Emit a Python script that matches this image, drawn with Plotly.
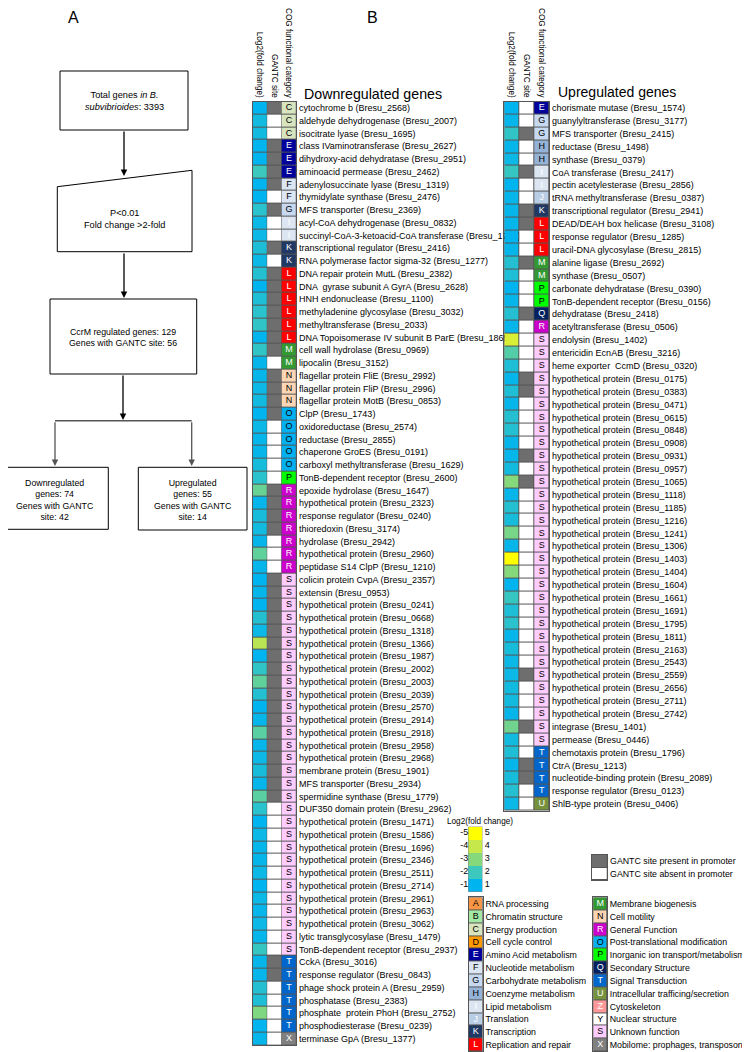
import plotly.graph_objects as go

W, H = 750, 1052
FONT = "Liberation Sans"
OFF = 8  # the page body adds an 8px margin around the figure


def px(x):
    return (x - OFF) / W


def py(y):
    return 1 - (y - OFF) / H


# ---- panel B data: downregulated genes ----
down_genes = [
    "cytochrome b (Bresu_2568)", "aldehyde dehydrogenase (Bresu_2007)", "isocitrate lyase (Bresu_1695)",
    "class IVaminotransferase (Bresu_2627)", "dihydroxy-acid dehydratase (Bresu_2951)",
    "aminoacid permease (Bresu_2462)", "adenylosuccinate lyase (Bresu_1319)",
    "thymidylate synthase (Bresu_2476)", "MFS transporter (Bresu_2369)",
    "acyl-CoA dehydrogenase (Bresu_0832)", "succinyl-CoA-3-ketoacid-CoA transferase (Bresu_1719)",
    "transcriptional regulator (Bresu_2416)", "RNA polymerase factor sigma-32 (Bresu_1277)",
    "DNA repair protein MutL (Bresu_2382)", "DNA  gyrase subunit A GyrA (Bresu_2628)",
    "HNH endonuclease (Bresu_1100)", "methyladenine glycosylase (Bresu_3032)",
    "methyltransferase (Bresu_2033)", "DNA Topoisomerase IV subunit B ParE (Bresu_1865)",
    "cell wall hydrolase (Bresu_0969)", "lipocalin (Bresu_3152)", "flagellar protein FliE (Bresu_2992)",
    "flagellar protein FliP (Bresu_2996)", "flagellar protein MotB (Bresu_0853)", "ClpP (Bresu_1743)",
    "oxidoreductase (Bresu_2574)", "reductase (Bresu_2855)", "chaperone GroES (Bresu_0191)",
    "carboxyl methyltransferase (Bresu_1629)", "TonB-dependent receptor (Bresu_2600)",
    "epoxide hydrolase (Bresu_1647)", "hypothetical protein (Bresu_2323)",
    "response regulator (Bresu_0240)", "thioredoxin (Bresu_3174)", "hydrolase (Bresu_2942)",
    "hypothetical protein (Bresu_2960)", "peptidase S14 ClpP (Bresu_1210)",
    "colicin protein CvpA (Bresu_2357)", "extensin (Bresu_0953)",
    "hypothetical protein (Bresu_0241)", "hypothetical protein (Bresu_0668)",
    "hypothetical protein (Bresu_1318)", "hypothetical protein (Bresu_1366)",
    "hypothetical protein (Bresu_1987)", "hypothetical protein (Bresu_2002)",
    "hypothetical protein (Bresu_2003)", "hypothetical protein (Bresu_2039)",
    "hypothetical protein (Bresu_2570)", "hypothetical protein (Bresu_2914)",
    "hypothetical protein (Bresu_2918)", "hypothetical protein (Bresu_2958)",
    "hypothetical protein (Bresu_2968)", "membrane protein (Bresu_1901)",
    "MFS transporter (Bresu_2934)", "spermidine synthase (Bresu_1779)",
    "DUF350 domain protein (Bresu_2962)", "hypothetical protein (Bresu_1471)",
    "hypothetical protein (Bresu_1586)", "hypothetical protein (Bresu_1696)",
    "hypothetical protein (Bresu_2346)", "hypothetical protein (Bresu_2511)",
    "hypothetical protein (Bresu_2714)", "hypothetical protein (Bresu_2961)",
    "hypothetical protein (Bresu_2963)", "hypothetical protein (Bresu_3062)",
    "lytic transglycosylase (Bresu_1479)", "TonB-dependent receptor (Bresu_2937)",
    "CckA (Bresu_3016)", "response regulator (Bresu_0843)", "phage shock protein A (Bresu_2959)",
    "phosphatase (Bresu_2383)", "phosphate  protein PhoH (Bresu_2752)",
    "phosphodiesterase (Bresu_0239)", "terminase GpA (Bresu_1377)",
]
down_log2 = [
    -1.0, -1.3, -1.3, -1.0, -1.0, -2.0, -1.0, -1.0, -1.7, -1.2, -1.2, -1.5, -1.2,
    -1.6, -1.0, -1.5, -1.7, -1.8, -1.0, -1.8, -1.1, -1.1, -1.2, -1.3, -1.0, -1.2,
    -1.1, -1.1, -1.4, -1.7, -2.6, -1.1, -1.4, -1.3, -1.1, -2.5, -1.1, -1.0, -1.1,
    -1.0, -1.6, -1.2, -3.8, -1.0, -1.8, -2.5, -1.6, -1.0, -1.1, -2.4, -1.1, -1.2,
    -1.4, -1.1, -2.4, -1.7, -1.0, -1.2, -1.1, -1.1, -1.2, -1.0, -1.2, -1.1, -1.2,
    -1.1, -1.9, -1.1, -1.1, -1.6, -1.5, -2.9, -1.0, -1.1,
]
down_gantc = [
    1, 0, 0, 1, 1, 1, 1, 0, 1, 0, 0, 1, 0, 1, 1, 1, 1, 1, 1, 1, 0, 1, 1, 1, 1, 0,
    0, 0, 0, 0, 1, 1, 1, 1, 0, 0, 0, 1, 1, 1, 1, 1, 1, 1, 1, 1, 1, 1, 1, 1, 1, 1,
    1, 1, 1, 0, 0, 0, 0, 0, 0, 0, 0, 0, 0, 0, 0, 1, 1, 0, 0, 0, 0, 0,
]
down_cog = list("CCCEEEFFGIIKKLLLLLLMMNNNOOOOOPRRRRRRRSSSSSSSSSSSSSSSSSSSSSSSSSSSSSSTTTTTTX")

# ---- panel B data: upregulated genes ----
up_genes = [
    "chorismate mutase (Bresu_1574)", "guanylyltransferase (Bresu_3177)",
    "MFS transporter (Bresu_2415)", "reductase (Bresu_1498)", "synthase (Bresu_0379)",
    "CoA transferase (Bresu_2417)", "pectin acetylesterase (Bresu_2856)",
    "tRNA methyltransferase (Bresu_0387)", "transcriptional regulator (Bresu_2941)",
    "DEAD/DEAH box helicase (Bresu_3108)", "response regulator (Bresu_1285)",
    "uracil-DNA glycosylase (Bresu_2815)", "alanine ligase (Bresu_2692)", "synthase (Bresu_0507)",
    "carbonate dehydratase (Bresu_0390)", "TonB-dependent receptor (Bresu_0156)",
    "dehydratase (Bresu_2418)", "acetyltransferase (Bresu_0506)", "endolysin (Bresu_1402)",
    "entericidin EcnAB (Bresu_3216)", "heme exporter  CcmD (Bresu_0320)",
    "hypothetical protein (Bresu_0175)", "hypothetical protein (Bresu_0383)",
    "hypothetical protein (Bresu_0471)", "hypothetical protein (Bresu_0615)",
    "hypothetical protein (Bresu_0848)", "hypothetical protein (Bresu_0908)",
    "hypothetical protein (Bresu_0931)", "hypothetical protein (Bresu_0957)",
    "hypothetical protein (Bresu_1065)", "hypothetical protein (Bresu_1118)",
    "hypothetical protein (Bresu_1185)", "hypothetical protein (Bresu_1216)",
    "hypothetical protein (Bresu_1241)", "hypothetical protein (Bresu_1306)",
    "hypothetical protein (Bresu_1403)", "hypothetical protein (Bresu_1404)",
    "hypothetical protein (Bresu_1604)", "hypothetical protein (Bresu_1661)",
    "hypothetical protein (Bresu_1691)", "hypothetical protein (Bresu_1795)",
    "hypothetical protein (Bresu_1811)", "hypothetical protein (Bresu_2163)",
    "hypothetical protein (Bresu_2543)", "hypothetical protein (Bresu_2559)",
    "hypothetical protein (Bresu_2656)", "hypothetical protein (Bresu_2711)",
    "hypothetical protein (Bresu_2742)", "integrase (Bresu_1401)", "permease (Bresu_0446)",
    "chemotaxis protein (Bresu_1796)", "CtrA (Bresu_1213)",
    "nucleotide-binding protein (Bresu_2089)", "response regulator (Bresu_0123)",
    "ShlB-type protein (Bresu_0406)",
]
up_log2 = [
    1.0, 1.1, 1.8, 1.1, 1.2, 1.9, 1.0, 1.1, 1.1, 1.1, 1.0, 1.1, 1.6, 1.5, 1.0, 1.1,
    1.6, 1.1, 4.3, 2.3, 1.5, 1.1, 1.5, 1.1, 1.6, 1.6, 1.1, 1.1, 1.3, 3.0, 1.1, 1.6,
    1.4, 2.8, 1.1, 5.0, 3.0, 1.0, 1.9, 1.5, 1.7, 1.1, 1.4, 1.2, 1.2, 1.3, 1.3, 1.1,
    2.7, 1.3, 1.5, 1.1, 1.4, 1.6, 1.2,
]
up_gantc = [
    0, 0, 1, 0, 0, 1, 0, 0, 1, 1, 0, 0, 1, 0, 0, 0, 1, 0, 0, 0, 0, 1, 1, 0, 0, 0,
    0, 1, 0, 1, 0, 0, 0, 0, 0, 0, 0, 0, 0, 0, 0, 0, 0, 0, 1, 0, 0, 0, 1, 0, 0, 1,
    1, 0, 0,
]
up_cog = list("EGGHHIIJKLLLMMPPQRSSSSSSSSSSSSSSSSSSSSSSSSSSSSSSSSTTTTU")

# ---- COG legend ----
cog_left = ["A", "B", "C", "D", "E", "F", "G", "H", "I", "J", "K", "L"]
cog_left_names = ["RNA processing", "Chromatin structure", "Energy production", "Cell cycle control",
                  "Amino Acid metabolism", "Nucleotide metabolism", "Carbohydrate metabolism",
                  "Coenzyme metabolism", "Lipid metabolism", "Translation", "Transcription",
                  "Replication and repair"]
cog_right = ["M", "N", "R", "O", "P", "Q", "T", "U", "Z", "Y", "S", "X"]
cog_right_names = ["Membrane biogenesis", "Cell motility", "General Function",
                   "Post-translational modification", "Inorganic ion transport/metabolism",
                   "Secondary Structure", "Signal Transduction", "Intracellular trafficing/secretion",
                   "Cytoskeleton", "Nuclear structure", "Unknown function",
                   "Mobilome: prophages, transposons"]
cog_colors = {
    "A": "#F79646", "B": "#A3E8A3", "C": "#D7E4BD", "D": "#FF9900", "E": "#00009C",
    "F": "#DCE6F2", "G": "#C6D9F1", "H": "#95B3D7", "I": "#DCE6F2", "J": "#B9CDE5",
    "K": "#1F3864", "L": "#FF0000", "M": "#339933", "N": "#FCD5B5", "R": "#CC00CC",
    "O": "#00B0F0", "P": "#00FF00", "Q": "#002060", "T": "#0066CC", "U": "#76923C",
    "Z": "#FF9999", "Y": "#FFFFFF", "S": "#FFCCFF", "X": "#808080",
}
white_text = set("EKLMRQTUZXIJ")

fold_levels = [5, 4, 3, 2, 1]
fold_scale = [[0, "#00B4F0"], [0.25, "#3CC8BC"], [0.5, "#86D97A"], [0.75, "#C6E84A"], [1, "#FFFF00"]]
gantc_scale = [[0, "#FFFFFF"], [1, "#6E6E6E"]]
gantc_legend = ["GANTC site present in promoter", "GANTC site absent in promoter"]

cog_order = list(cog_colors.keys())
cog_scale = []
for i, k in enumerate(cog_order):
    cog_scale.append([i / len(cog_order), cog_colors[k]])
    cog_scale.append([(i + 1) / len(cog_order), cog_colors[k]])

COLS = ["Log2(fold change)", "GANTC site", "COG functional category"]

fig = go.Figure()


def letter_colors(letters):
    return ["white" if c in white_text else "black" for c in letters]


def gene_table(n, log2, gantc, cog, xa, ya):
    ys = list(range(n))
    common = dict(showscale=False, xgap=1, ygap=1, hoverinfo="skip", xaxis=xa, yaxis=ya, dx=1)
    fig.add_trace(go.Heatmap(x0=0, y=ys, z=[[abs(v)] for v in log2], zmin=1, zmax=5,
                             colorscale=fold_scale, **common))
    fig.add_trace(go.Heatmap(x0=1, y=ys, z=[[g] for g in gantc], zmin=0, zmax=1,
                             colorscale=gantc_scale, **common))
    fig.add_trace(go.Heatmap(x0=2, y=ys, z=[[cog_order.index(c)] for c in cog],
                             zmin=-0.5, zmax=len(cog_order) - 0.5, colorscale=cog_scale, **common))
    fig.add_trace(go.Scatter(x=[2] * n, y=ys, mode="text", text=cog, hoverinfo="skip",
                             textfont=dict(family=FONT, size=9, color=letter_colors(cog)),
                             xaxis=xa, yaxis=ya, showlegend=False))


def cog_legend(letters, xa, ya):
    ys = list(range(len(letters)))
    fig.add_trace(go.Heatmap(x0=0, dx=1, y=ys, z=[[cog_order.index(c)] for c in letters],
                             zmin=-0.5, zmax=len(cog_order) - 0.5, colorscale=cog_scale,
                             showscale=False, xgap=1, ygap=1, hoverinfo="skip", xaxis=xa, yaxis=ya))
    fig.add_trace(go.Scatter(x=[0] * len(letters), y=ys, mode="text", text=letters, hoverinfo="skip",
                             textfont=dict(family=FONT, size=9, color=letter_colors(letters)),
                             xaxis=xa, yaxis=ya, showlegend=False))


gene_table(len(down_genes), down_log2, down_gantc, down_cog, "x", "y")
gene_table(len(up_genes), up_log2, up_gantc, up_cog, "x2", "y2")

# fold-change colour key
fig.add_trace(go.Heatmap(x0=0, dx=1, y=list(range(5)), z=[[v] for v in fold_levels], zmin=1, zmax=5,
                         colorscale=fold_scale, showscale=False, hoverinfo="skip", xaxis="x3", yaxis="y3"))
fig.add_trace(go.Scatter(x=[-0.5] * 5, y=list(range(5)), mode="text", text=["-%d" % v for v in fold_levels],
                         textposition="middle left", cliponaxis=False, hoverinfo="skip",
                         textfont=dict(family=FONT, size=9, color="black"),
                         xaxis="x3", yaxis="y3", showlegend=False))
fig.add_trace(go.Scatter(x=[0.5] * 5, y=list(range(5)), mode="text", text=[" " + str(v) for v in fold_levels],
                         textposition="middle right", cliponaxis=False, hoverinfo="skip",
                         textfont=dict(family=FONT, size=9, color="black"),
                         xaxis="x3", yaxis="y3", showlegend=False))

# GANTC key
fig.add_trace(go.Heatmap(x0=0, dx=1, y=[0, 1], z=[[1], [0]], zmin=0, zmax=1, colorscale=gantc_scale,
                         showscale=False, xgap=1, ygap=1, hoverinfo="skip", xaxis="x4", yaxis="y4"))

cog_legend(cog_left, "x5", "y5")
cog_legend(cog_right, "x6", "y6")


def xax(x0, x1, anchor, labels=False):
    d = dict(domain=[px(x0), px(x1)], anchor=anchor, showgrid=False, zeroline=False, ticks="", ticklen=0,
             showline=True, mirror=True, linecolor="#555555", linewidth=1, fixedrange=True)
    if labels:
        d.update(range=[-0.5, 2.5], side="top", tickmode="array", tickvals=[0, 1, 2], ticktext=COLS,
                 tickangle=90, tickfont=dict(family=FONT, size=8.2, color="black"))
    else:
        d.update(showticklabels=False, range=[-0.5, 0.5])
    return d


def yax(y0, y1, anchor, n, ticktext=None, size=9):
    d = dict(domain=[py(y1), py(y0)], anchor=anchor, showgrid=False, zeroline=False, ticks="", ticklen=0,
             range=[n - 0.5, -0.5], showline=True, mirror=True, linecolor="#555555", linewidth=1,
             fixedrange=True)
    if ticktext:
        d.update(side="right", tickmode="array", tickvals=list(range(n)), ticktext=ticktext,
                 tickfont=dict(family=FONT, size=size, color="black"))
    else:
        d.update(showticklabels=False)
    return d


dn_top, dn_row = 101.6, 12.75
up_top, up_row = 101.55, 12.89
leg_top, leg_row = 897.4, 12.84

layout_axes = dict(
    xaxis=xax(252.7, 296.2, "y", labels=True),
    yaxis=yax(dn_top, dn_top + dn_row * len(down_genes), "x", len(down_genes), down_genes),
    xaxis2=xax(504.3, 549.3, "y2", labels=True),
    yaxis2=yax(up_top, up_top + up_row * len(up_genes), "x2", len(up_genes), up_genes),
    xaxis3=xax(468.3, 482.3, "y3"),
    yaxis3=yax(826.7, 891.7, "x3", 5),
    xaxis4=xax(591.7, 607.3, "y4"),
    yaxis4=yax(855, 880, "x4", 2, gantc_legend, 8.8),
    xaxis5=xax(469, 482.7, "y5"),
    yaxis5=yax(leg_top, leg_top + leg_row * 12, "x5", 12, cog_left_names, 8.8),
    xaxis6=xax(593.3, 607, "y6"),
    yaxis6=yax(leg_top, leg_top + leg_row * 12, "x6", 12, cog_right_names, 8.8),
)
layout_axes["xaxis3"]["showline"] = False
layout_axes["yaxis3"]["showline"] = False

# ---- panel A flowchart ----
line = dict(color="black", width=1)
shapes = [
    dict(type="rect", xref="paper", yref="paper", x0=px(60), x1=px(188), y0=py(71), y1=py(130), line=line),
    dict(type="path", xref="paper", yref="paper", line=line,
         path="M {} {} L {} {} L {} {} L {} {} Z".format(px(57.3), py(186.7), px(192), py(170.3),
                                                       px(192), py(251.7), px(57.3), py(251.7))),
    dict(type="rect", xref="paper", yref="paper", x0=px(50), x1=px(196.7), y0=py(299), y1=py(374), line=line),
    dict(type="line", xref="paper", yref="paper", x0=px(55), x1=px(191.7), y0=py(420.7), y1=py(420.7),
         line=dict(color="#555555", width=1.5)),
    dict(type="rect", xref="paper", yref="paper", x0=px(1.7), x1=px(108.3), y0=py(467.3), y1=py(529.3), line=line),
    dict(type="rect", xref="paper", yref="paper", x0=px(138.3), x1=px(247), y0=py(467.3), y1=py(530), line=line),
]


def arrow(x, y_from, y_to, color="black"):
    return dict(xref="paper", yref="paper", x=px(x), y=py(y_to), ax=0, ay=y_from - y_to, text="",
                showarrow=True, arrowhead=2, arrowsize=1, arrowwidth=1.3, arrowcolor=color, standoff=0)


def note(text, x, y, size=8.8, **kw):
    d = dict(xref="paper", yref="paper", x=px(x), y=py(y), text=text, showarrow=False,
             font=dict(family=FONT, size=size, color="black"), xanchor="center", yanchor="middle")
    d.update(kw)
    return d


annotations = [
    arrow(124, 130, 176), arrow(124, 252, 298), arrow(123, 374, 420),
    arrow(55, 420.7, 466, "#555555"), arrow(191.7, 420.7, 466, "#555555"),
    note("A", 73, 8, 16, yanchor="top", borderpad=0),
    note("B", 372, 8, 16, yanchor="top", borderpad=0),
    note("Total genes <i>in B.</i><br><i>subvibrioides</i>: 3393", 124, 101.5, 9.2),
    note("P&lt;0.01<br>Fold change &gt;2-fold", 124, 219.5, 9.2),
    note("CcrM regulated genes: 129<br>Genes with GANTC site: 56", 123, 337.5, 8.8),
    note("Downregulated<br>genes: 74<br>Genes with GANTC<br>site: 42", 55, 499.5, 8.8),
    note("Upregulated<br>genes: 55<br>Genes with GANTC<br>site: 14", 192.7, 499.5, 8.8),
    note("Downregulated genes", 373, 94, 14.2),
    note("Upregulated genes", 617, 92, 14),
    note("Log2(fold change)", 480, 821, 8.2),
]

fig.update_layout(
    width=W, height=H, margin=dict(l=0, r=0, t=0, b=0), template="none",
    paper_bgcolor="white", plot_bgcolor="#555555", showlegend=False,
    font=dict(family=FONT, size=9, color="black"),
    shapes=shapes, annotations=annotations, **layout_axes,
)

fig.write_html("out.html")
